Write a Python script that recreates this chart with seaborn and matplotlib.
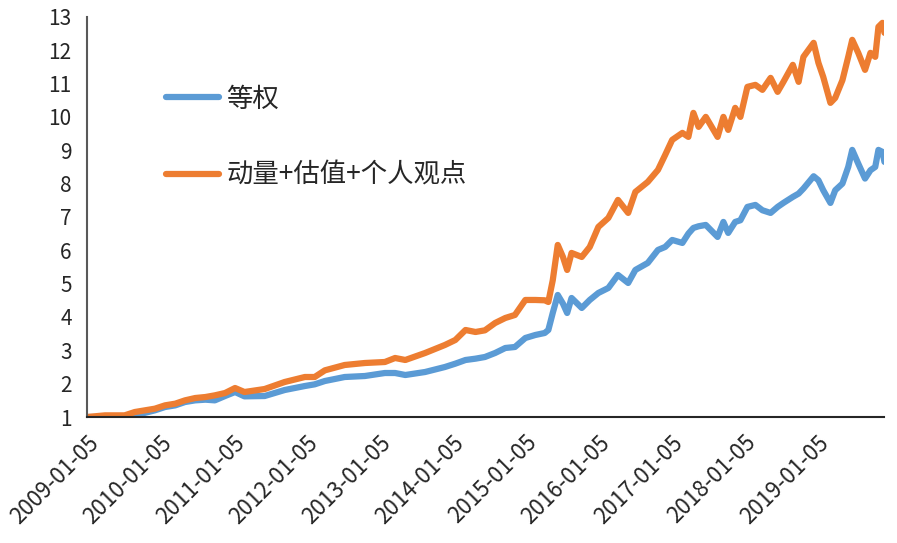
import matplotlib as mpl
mpl.use('Agg')

import pandas as pd
import matplotlib.pyplot as plt
import matplotlib.dates as mdates
import seaborn as sns

# values
dates = [
    '2009-01-05', '2009-04-05', '2009-07-12', '2009-09-01', '2009-12-10',
    '2010-01-30', '2010-03-22', '2010-05-10', '2010-06-30', '2010-08-20',
    '2010-10-06', '2010-11-26', '2011-01-15', '2011-03-03', '2011-06-12',
    '2011-09-20', '2011-12-30', '2012-02-17', '2012-04-08', '2012-07-16',
    '2012-10-25', '2013-02-02', '2013-03-25', '2013-05-15', '2013-08-22',
    '2013-11-29', '2014-01-20', '2014-03-12', '2014-05-01', '2014-06-17',
    '2014-08-07', '2014-09-27', '2014-11-14', '2015-01-05', '2015-02-24',
    '2015-04-12', '2015-04-30', '2015-05-22', '2015-06-16', '2015-07-12',
    '2015-08-02', '2015-08-24', '2015-10-14', '2015-11-23', '2016-01-05',
    '2016-02-24', '2016-04-12', '2016-06-02', '2016-07-08', '2016-09-08',
    '2016-10-29', '2016-12-04', '2017-01-08', '2017-02-28', '2017-03-30',
    '2017-04-24', '2017-05-20', '2017-06-25', '2017-08-23', '2017-09-21',
    '2017-10-15', '2017-11-19', '2017-12-15', '2018-01-19', '2018-02-28',
    '2018-04-04', '2018-05-15', '2018-06-19', '2018-07-18', '2018-09-03',
    '2018-10-02', '2018-10-26', '2018-12-16', '2019-01-09', '2019-02-02',
    '2019-03-10', '2019-04-03', '2019-05-09', '2019-06-07', '2019-06-27',
    '2019-07-27', '2019-08-30', '2019-09-26', '2019-10-20', '2019-11-05',
    '2019-11-25', '2019-12-05',
]

equal_weight = [
    1.00, 1.00, 1.00, 1.05, 1.20,
    1.30, 1.35, 1.45, 1.50, 1.52,
    1.50, 1.63, 1.75, 1.62, 1.63,
    1.81, 1.93, 1.98, 2.08, 2.20,
    2.23, 2.32, 2.32, 2.26, 2.35,
    2.50, 2.60, 2.71, 2.75, 2.80,
    2.92, 3.07, 3.10, 3.37, 3.46,
    3.52, 3.61, 4.12, 4.66, 4.40,
    4.12, 4.57, 4.27, 4.51, 4.72,
    4.87, 5.26, 5.02, 5.41, 5.62,
    6.01, 6.10, 6.31, 6.22, 6.50,
    6.67, 6.72, 6.76, 6.40, 6.85,
    6.52, 6.85, 6.90, 7.30, 7.36,
    7.20, 7.12, 7.30, 7.42, 7.60,
    7.70, 7.85, 8.22, 8.10, 7.80,
    7.42, 7.80, 8.00, 8.50, 9.01,
    8.60, 8.15, 8.40, 8.50, 9.01,
    8.95, 8.65,
]

momentum_value_view = [
    1.00, 1.05, 1.05, 1.15, 1.25,
    1.35, 1.40, 1.50, 1.57, 1.60,
    1.65, 1.72, 1.87, 1.75, 1.84,
    2.05, 2.20, 2.20, 2.40, 2.56,
    2.62, 2.65, 2.77, 2.71, 2.92,
    3.16, 3.31, 3.61, 3.55, 3.60,
    3.82, 3.97, 4.06, 4.51, 4.51,
    4.50, 4.45, 5.10, 6.16, 5.80,
    5.41, 5.92, 5.80, 6.10, 6.70,
    6.97, 7.51, 7.12, 7.75, 8.05,
    8.41, 8.86, 9.31, 9.52, 9.40,
    10.12, 9.70, 10.00, 9.40, 10.00,
    9.61, 10.27, 10.00, 10.90, 10.96,
    10.81, 11.17, 10.75, 11.05, 11.56,
    11.05, 11.80, 12.22, 11.62, 11.20,
    10.42, 10.57, 11.10, 11.80, 12.31,
    11.92, 11.41, 11.92, 11.80, 12.70,
    12.82, 12.52,
]

series_names = ['等权', '动量+估值+个人观点']
colors = ['#5B9BD5', '#ED7D31']
y_ticks = list(range(1, 14))
x_ticks = ['%d-01-05' % y for y in range(2009, 2020)]


def main():
    sns.set_style('white')
    plt.rcParams['font.family'] = ['Noto Sans CJK SC', 'DejaVu Sans']

    df = pd.DataFrame({
        'date': pd.to_datetime(dates * 2),
        'value': equal_weight + momentum_value_view,
        'series': [series_names[0]] * len(dates) + [series_names[1]] * len(dates),
    })

    fig = plt.figure(figsize=(8.97, 5.43), dpi=100)
    ax = fig.add_axes([0.097, 0.232, 0.889, 0.737])

    sns.lineplot(data=df, x='date', y='value', hue='series', hue_order=series_names,
                 palette=colors, linewidth=4.5, ax=ax)

    ax.set_xlim(pd.Timestamp('2009-01-05'), pd.Timestamp('2019-12-05'))
    ax.set_ylim(1, 13)
    ax.set_yticks(y_ticks)
    ax.set_xticks(pd.to_datetime(x_ticks))
    ax.xaxis.set_major_formatter(mdates.DateFormatter('%Y-%m-%d'))
    ax.set_xlabel('')
    ax.set_ylabel('')

    ax.tick_params(axis='y', labelsize=15, length=0, pad=11)
    ax.tick_params(axis='x', labelsize=16, length=0, pad=10)
    for lbl in ax.get_xticklabels():
        lbl.set_rotation(45)
        lbl.set_ha('right')
        lbl.set_rotation_mode('anchor')

    for side in ['top', 'right']:
        ax.spines[side].set_visible(False)
    ax.spines['left'].set_color('#595959')
    ax.spines['bottom'].set_color('#262626')
    ax.spines['left'].set_linewidth(1.5)
    ax.spines['bottom'].set_linewidth(1.5)

    handles, labels = ax.get_legend_handles_labels()
    ax.legend(handles, labels, loc='upper left', bbox_to_anchor=(0.069, 0.888),
              frameon=False, fontsize=19, handlelength=2.0, handletextpad=0.3,
              labelspacing=1.87)

    plt.savefig('out.png', dpi=100)


if __name__ == '__main__':
    main()
